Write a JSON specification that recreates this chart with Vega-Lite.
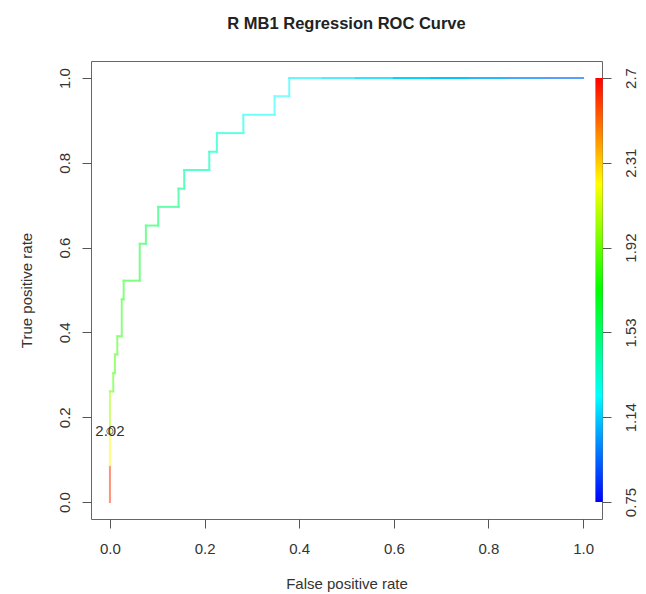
{
  "$schema": "https://vega.github.io/schema/vega-lite/v6.json",
  "width": 511,
  "height": 458,
  "autosize": {"type": "none"},
  "padding": {"left": 91, "top": 61, "right": 44, "bottom": 75},
  "background": "white",
  "config": {"view": {"stroke": "#666", "strokeWidth": 1}, "font": "Liberation Sans"},
  "title": {"text": "R MB1 Regression ROC Curve", "fontSize": 16.5, "fontWeight": "bold", "font": "Liberation Sans", "color": "#222", "anchor": "middle", "baseline": "bottom", "offset": 13},
  "datasets": {
    "segs": [
      {"fpr": 0, "tpr": 0, "fpr2": 0, "tpr2": 0.087, "cutoff": 2.62},
      {"fpr": 0, "tpr": 0.087, "fpr2": 0, "tpr2": 0.174, "cutoff": 2.22},
      {"fpr": 0, "tpr": 0.174, "fpr2": 0, "tpr2": 0.261, "cutoff": 2.0},
      {"fpr": 0, "tpr": 0.261, "fpr2": 0.007, "tpr2": 0.261, "cutoff": 1.84},
      {"fpr": 0.007, "tpr": 0.261, "fpr2": 0.007, "tpr2": 0.304, "cutoff": 1.82},
      {"fpr": 0.007, "tpr": 0.304, "fpr2": 0.0105, "tpr2": 0.304, "cutoff": 1.81},
      {"fpr": 0.0105, "tpr": 0.304, "fpr2": 0.0105, "tpr2": 0.348, "cutoff": 1.8},
      {"fpr": 0.0105, "tpr": 0.348, "fpr2": 0.0156, "tpr2": 0.348, "cutoff": 1.79},
      {"fpr": 0.0156, "tpr": 0.348, "fpr2": 0.0156, "tpr2": 0.391, "cutoff": 1.78},
      {"fpr": 0.0156, "tpr": 0.391, "fpr2": 0.025, "tpr2": 0.391, "cutoff": 1.77},
      {"fpr": 0.025, "tpr": 0.391, "fpr2": 0.025, "tpr2": 0.478, "cutoff": 1.76},
      {"fpr": 0.025, "tpr": 0.478, "fpr2": 0.029, "tpr2": 0.478, "cutoff": 1.75},
      {"fpr": 0.029, "tpr": 0.478, "fpr2": 0.029, "tpr2": 0.522, "cutoff": 1.74},
      {"fpr": 0.029, "tpr": 0.522, "fpr2": 0.063, "tpr2": 0.522, "cutoff": 1.72},
      {"fpr": 0.063, "tpr": 0.522, "fpr2": 0.063, "tpr2": 0.609, "cutoff": 1.7},
      {"fpr": 0.063, "tpr": 0.609, "fpr2": 0.076, "tpr2": 0.609, "cutoff": 1.68},
      {"fpr": 0.076, "tpr": 0.609, "fpr2": 0.076, "tpr2": 0.652, "cutoff": 1.67},
      {"fpr": 0.076, "tpr": 0.652, "fpr2": 0.102, "tpr2": 0.652, "cutoff": 1.65},
      {"fpr": 0.102, "tpr": 0.652, "fpr2": 0.102, "tpr2": 0.696, "cutoff": 1.63},
      {"fpr": 0.102, "tpr": 0.696, "fpr2": 0.145, "tpr2": 0.696, "cutoff": 1.6},
      {"fpr": 0.145, "tpr": 0.696, "fpr2": 0.145, "tpr2": 0.739, "cutoff": 1.58},
      {"fpr": 0.145, "tpr": 0.739, "fpr2": 0.157, "tpr2": 0.739, "cutoff": 1.56},
      {"fpr": 0.157, "tpr": 0.739, "fpr2": 0.157, "tpr2": 0.783, "cutoff": 1.54},
      {"fpr": 0.157, "tpr": 0.783, "fpr2": 0.21, "tpr2": 0.783, "cutoff": 1.5},
      {"fpr": 0.21, "tpr": 0.783, "fpr2": 0.21, "tpr2": 0.826, "cutoff": 1.47},
      {"fpr": 0.21, "tpr": 0.826, "fpr2": 0.226, "tpr2": 0.826, "cutoff": 1.45},
      {"fpr": 0.226, "tpr": 0.826, "fpr2": 0.226, "tpr2": 0.87, "cutoff": 1.42},
      {"fpr": 0.226, "tpr": 0.87, "fpr2": 0.282, "tpr2": 0.87, "cutoff": 1.38},
      {"fpr": 0.282, "tpr": 0.87, "fpr2": 0.282, "tpr2": 0.913, "cutoff": 1.35},
      {"fpr": 0.282, "tpr": 0.913, "fpr2": 0.348, "tpr2": 0.913, "cutoff": 1.3},
      {"fpr": 0.348, "tpr": 0.913, "fpr2": 0.348, "tpr2": 0.957, "cutoff": 1.27},
      {"fpr": 0.348, "tpr": 0.957, "fpr2": 0.379, "tpr2": 0.957, "cutoff": 1.24},
      {"fpr": 0.379, "tpr": 0.957, "fpr2": 0.379, "tpr2": 1.0, "cutoff": 1.22},
      {"fpr": 0.379, "tpr": 1.0, "fpr2": 0.45, "tpr2": 1.0, "cutoff": 1.19},
      {"fpr": 0.45, "tpr": 1.0, "fpr2": 0.52, "tpr2": 1.0, "cutoff": 1.15},
      {"fpr": 0.52, "tpr": 1.0, "fpr2": 0.6, "tpr2": 1.0, "cutoff": 1.1},
      {"fpr": 0.6, "tpr": 1.0, "fpr2": 0.68, "tpr2": 1.0, "cutoff": 1.04},
      {"fpr": 0.68, "tpr": 1.0, "fpr2": 0.76, "tpr2": 1.0, "cutoff": 0.98},
      {"fpr": 0.76, "tpr": 1.0, "fpr2": 0.84, "tpr2": 1.0, "cutoff": 0.93},
      {"fpr": 0.84, "tpr": 1.0, "fpr2": 0.92, "tpr2": 1.0, "cutoff": 0.88},
      {"fpr": 0.92, "tpr": 1.0, "fpr2": 1.0, "tpr2": 1.0, "cutoff": 0.84}
    ],
    "cut": [{"fpr": 0, "tpr": 0.167, "label": "2.02"}],
    "key": [{"lo": 0.75, "hi": 2.7}]
  },
  "layer": [
    {
      "layer": [
        {
          "data": {"name": "segs"},
          "mark": {"type": "rule", "strokeWidth": 2, "strokeCap": "square"},
          "encoding": {
            "x": {
              "field": "fpr", "type": "quantitative",
              "scale": {"domain": [-0.04, 1.04], "nice": false, "zero": false},
              "axis": {"values": [0, 0.2, 0.4, 0.6, 0.8, 1], "format": ".1f", "title": "False positive rate", "domain": false, "grid": false, "tickSize": 9, "tickColor": "#555", "labelFontSize": 15, "labelColor": "#333", "labelPadding": 13, "labelFont": "Liberation Sans", "titleFont": "Liberation Sans", "titleFontSize": 15, "titleFontWeight": "normal", "titleColor": "#333", "titlePadding": 20}
            },
            "x2": {"field": "fpr2"},
            "y": {
              "field": "tpr", "type": "quantitative",
              "scale": {"domain": [-0.04, 1.04], "nice": false, "zero": false},
              "axis": {"values": [0, 0.2, 0.4, 0.6, 0.8, 1], "format": ".1f", "title": "True positive rate", "domain": false, "grid": false, "tickSize": 9, "tickColor": "#555", "labelFontSize": 15, "labelColor": "#333", "labelAngle": -90, "labelAlign": "center", "labelBaseline": "bottom", "labelPadding": 10, "labelFont": "Liberation Sans", "titleFont": "Liberation Sans", "titleFontSize": 15, "titleFontWeight": "normal", "titleColor": "#333", "titlePadding": 23}
            },
            "y2": {"field": "tpr2"},
            "color": {
              "field": "cutoff", "type": "quantitative",
              "scale": {"domain": [0.75, 1.2375, 1.725, 2.2125, 2.7], "range": ["#8080ff", "#80ffff", "#80ff80", "#ffff80", "#ff8080"]},
              "legend": null
            }
          }
        },
        {
          "data": {"name": "cut"},
          "mark": {"type": "point", "shape": "circle", "filled": false, "size": 40, "stroke": "#444", "strokeWidth": 1, "opacity": 0.7},
          "encoding": {
            "x": {"field": "fpr", "type": "quantitative"},
            "y": {"field": "tpr", "type": "quantitative"}
          }
        },
        {
          "data": {"name": "cut"},
          "mark": {"type": "text", "fontSize": 15, "font": "Liberation Sans", "color": "#333", "align": "center", "baseline": "middle"},
          "encoding": {
            "x": {"field": "fpr", "type": "quantitative"},
            "y": {"field": "tpr", "type": "quantitative"},
            "text": {"field": "label"}
          }
        }
      ]
    },
    {
      "data": {"name": "key"},
      "mark": {
        "type": "rect",
        "color": {"gradient": "linear", "x1": 0, "y1": 1, "x2": 0, "y2": 0, "stops": [
          {"offset": 0, "color": "#0000ff"},
          {"offset": 0.25, "color": "#00ffff"},
          {"offset": 0.5, "color": "#00ff00"},
          {"offset": 0.75, "color": "#ffff00"},
          {"offset": 1, "color": "#ff0000"}
        ]}
      },
      "encoding": {
        "x": {"datum": 1.026, "type": "quantitative"},
        "x2": {"datum": 1.0415},
        "y": {
          "field": "lo", "type": "quantitative",
          "scale": {"domain": [0.672, 2.778], "nice": false, "zero": false},
          "axis": {"orient": "right", "values": [0.75, 1.14, 1.53, 1.92, 2.31, 2.7], "labelExpr": "'' + datum.value", "title": null, "domain": false, "grid": false, "tickSize": 9, "tickColor": "#555", "labelFontSize": 15, "labelColor": "#333", "labelAngle": -90, "labelAlign": "center", "labelBaseline": "top", "labelPadding": 12, "labelFont": "Liberation Sans"}
        },
        "y2": {"field": "hi"}
      }
    }
  ],
  "resolve": {"scale": {"y": "independent"}, "axis": {"y": "independent"}}
}
